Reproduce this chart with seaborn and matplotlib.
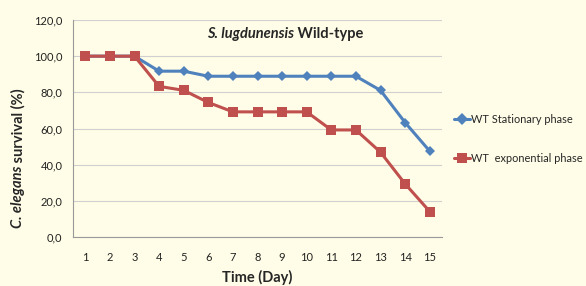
import numpy as np
import pandas as pd
import seaborn as sns
import matplotlib
matplotlib.use("Agg")
import matplotlib.pyplot as plt
from matplotlib.ticker import FuncFormatter, MultipleLocator

# data
days = list(range(1, 16))
stationary = [100, 100, 100, 91.7, 91.7, 88.9, 88.9, 88.9, 88.9, 88.9, 88.9, 88.9, 81.1, 63.3, 47.5]
exponential = [100, 100, 100, 83.3, 81.1, 74.4, 69.2, 69.2, 69.2, 69.2, 59.2, 59.2, 46.9, 29.4, 14.1]
series_names = ["WT Stationary phase", "WT  exponential phase"]
y_ticks = [0, 20, 40, 60, 80, 100, 120]

bg = "#FFFDE7"
blue = "#4F81BD"
red = "#C0504D"

sns.set_style("white")
plt.rcParams["font.family"] = ["Lato", "DejaVu Sans"]

df = pd.DataFrame({
    "day": days * 2,
    "survival": stationary + exponential,
    "series": [series_names[0]] * len(days) + [series_names[1]] * len(days),
})

fig = plt.figure(figsize=(5.86, 2.86), dpi=100, facecolor=bg)
ax = fig.add_axes([73 / 586, 1 - 237 / 286, 369 / 586, 217 / 286])
ax.set_facecolor(bg)

sns.lineplot(data=df, x="day", y="survival", hue="series", style="series",
             palette=[blue, red], markers={series_names[0]: "D", series_names[1]: "s"},
             dashes=False, linewidth=2.2, markersize=6.5, markeredgewidth=0,
             ax=ax)
# diamond a bit smaller than square
for line, ms in zip(ax.get_lines()[:2], [5.5, 7.5]):
    line.set_markersize(ms)

ax.set_xlim(0.5, 15.5)
ax.set_ylim(0, 120)
ax.set_yticks(y_ticks)
ax.yaxis.set_major_formatter(FuncFormatter(lambda v, p: f"{v:.1f}".replace(".", ",")))
ax.set_xticks(days)
ax.xaxis.set_minor_locator(MultipleLocator(1, offset=0.5))
ax.tick_params(axis="x", which="major", length=0, pad=11, labelsize=8, colors="#222222")
ax.tick_params(axis="x", which="minor", length=4, color="#999999", direction="out")
ax.tick_params(axis="y", which="major", length=4, color="#999999", direction="out",
               labelsize=8, colors="#999999", labelcolor="#222222")

ax.grid(axis="y", color="#D0D0D0", linewidth=0.8)
ax.set_axisbelow(True)
for s in ["top", "right"]:
    ax.spines[s].set_visible(False)
for s in ["left", "bottom"]:
    ax.spines[s].set_color("#999999")
    ax.spines[s].set_linewidth(0.8)

ax.set_xlabel("Time (Day)", fontsize=10.5, fontweight="bold", labelpad=5)
ax.set_ylabel("")

# title: italic species name + bold text
t1 = fig.text(207 / 586, 1 - 34 / 286, "S. lugdunensis", fontsize=10.5,
              fontweight="bold", style="italic", ha="left", va="center")
ax.annotate(" Wild-type", xy=(1, 0), xycoords=t1, fontsize=10.5, fontweight="bold",
            ha="left", va="bottom")

# y label: italic species name + bold text, rotated
y1 = fig.text(18 / 586, 1 - 228 / 286, "C. elegans", fontsize=10.5, fontweight="bold",
              style="italic", rotation=90, ha="center", va="bottom")
ax.annotate(" survival (%)", xy=(0.5, 1), xycoords=y1, fontsize=10.5, fontweight="bold",
            rotation=90, ha="center", va="bottom")

leg = ax.legend(loc="upper left", bbox_to_anchor=(446 / 586, 1 - 106 / 286),
                bbox_transform=fig.transFigure, frameon=False, fontsize=7.9,
                labelspacing=2.6, handlelength=1.5, handletextpad=0.05,
                borderpad=0.2)

fig.savefig("out.png", dpi=100, facecolor=bg)
